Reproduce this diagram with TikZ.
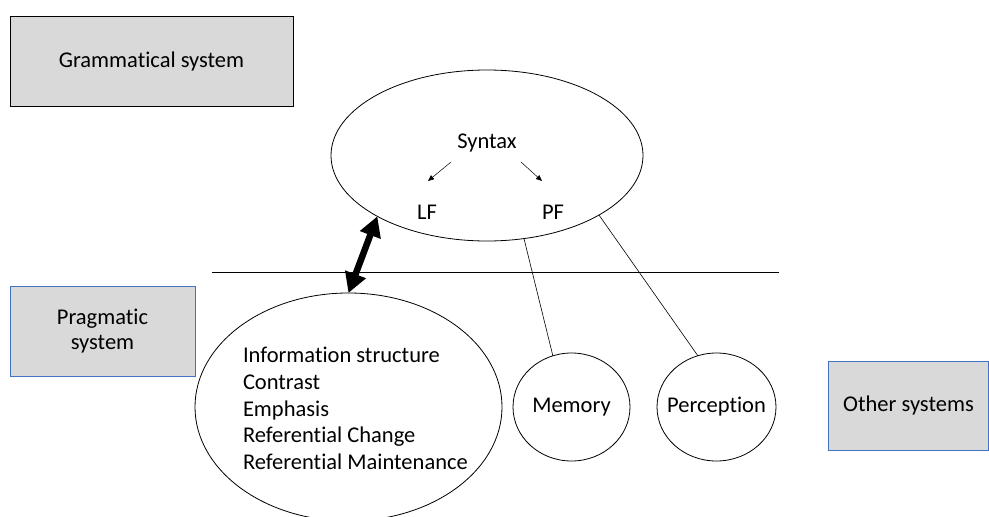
\documentclass[tikz,border=0pt]{standalone}
\usepackage{fontspec}
\setmainfont{Carlito}[Ligatures=NoCommon]
\usetikzlibrary{shapes.geometric,arrows.meta}
\definecolor{boxgray}{HTML}{D9D9D9}
\definecolor{boxblue}{HTML}{4472C4}
\tikzset{
  sysbox/.style={draw=#1, fill=boxgray, line width=0.8pt, inner sep=0pt, outer sep=0pt, align=center},
  oval/.style={ellipse, draw, line width=0.8pt, inner sep=0pt, outer sep=0pt},
  lbl/.style={inner sep=0pt, outer sep=0pt},
  link/.style={line width=0.6pt},
  thin arrow/.style={line width=0.5pt, -{Triangle[length=6pt,width=5pt]}},
  thick arrow/.style={line width=6.5pt, {Triangle[length=20pt,width=21pt]}-{Triangle[length=20pt,width=21pt]}},
}
\begin{document}
\begin{tikzpicture}[x=1pt, y=-1pt, font=\fontsize{22.5}{26.7}\selectfont]
\path[use as bounding box] (0,0) rectangle (989,517);

% system boxes
\node[sysbox=black, minimum width=283pt, minimum height=90pt] (gram) at (151.5,61) {Grammatical system};
\node[sysbox=boxblue, minimum width=185pt, minimum height=90pt] (prag) at (102.5,331) {Pragmatic\\[-1pt]system};
\node[sysbox=boxblue, minimum width=160pt, minimum height=89pt] (other) at (908.5,405.5) {Other systems};

% syntax ellipse and its contents
\node[oval, minimum width=312pt, minimum height=171pt] (syn) at (487,155.5) {};
\node[lbl] (syntax) at (487,143) {Syntax};
\node[lbl] (lf) at (427,212) {LF};
\node[lbl] (pf) at (553,212) {PF};
\coordinate (lfarrow) at (428,181);
\coordinate (pfarrow) at (542,181);
\coordinate (lfstart) at (451,162);
\coordinate (pfstart) at (521,162);
\draw[thin arrow] (lfstart) -- (lfarrow);
\draw[thin arrow] (pfstart) -- (pfarrow);

% boundary line between the systems
\draw[line width=0.8pt] (212,272) -- (779,272);

% pragmatic ellipse
\node[oval, minimum width=307pt, minimum height=228pt] (info) at (348.5,407) {};
\node[lbl, anchor=west, align=left] (infotext) at (243,408.5)
  {Information structure\\Contrast\\Emphasis\\Referential Change\\Referential Maintenance};

% memory and perception
\node[oval, minimum width=117pt, minimum height=108pt] (mem) at (571.5,407) {};
\node[lbl] (memtext) at (571.5,407) {Memory};
\node[oval, minimum width=119pt, minimum height=108pt] (perc) at (716.5,407) {};
\node[lbl] (perctext) at (716.5,407) {Perception};

% connectors
\draw[link] (syn.-66.1) -- (mem.110.6);
\draw[link] (syn.-28.4) -- (perc.110.9);
\draw[thick arrow] (info.north) -- (syn.209.2);
\end{tikzpicture}
\end{document}
